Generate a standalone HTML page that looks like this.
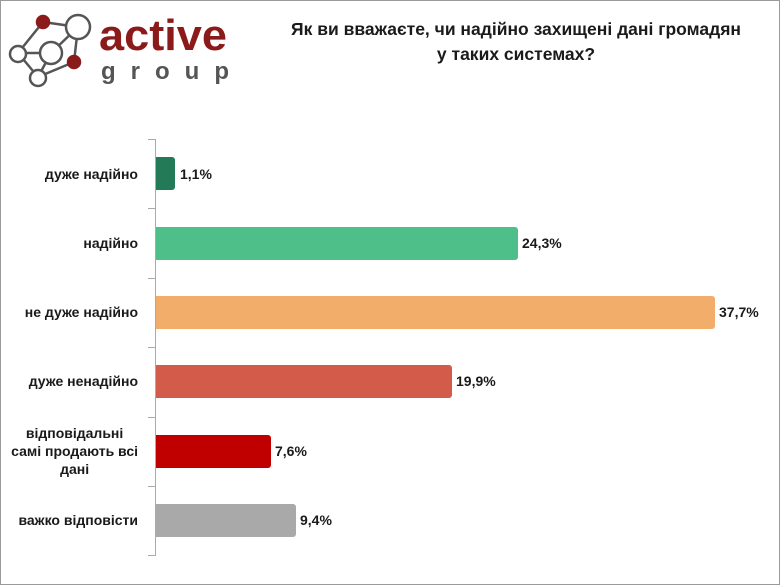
<!DOCTYPE html>
<html><head><meta charset="utf-8"><style>
body{margin:0;background:#fff}
#c{position:relative;width:778px;height:583px;border:1px solid #9a9a9a;overflow:hidden;font-family:"Liberation Sans","DejaVu Sans",sans-serif;font-weight:bold;color:#1a1a1a}
.l{position:absolute;right:641px;text-align:center;font-size:14px;line-height:18px;white-space:nowrap}
.b{position:absolute;left:155px;height:33px;border-radius:0 3px 3px 0}
.v{position:absolute;font-size:14px}
.t{position:absolute;left:147px;width:7px;height:1px;background:#aaa}
</style></head><body><div id="c">
<svg style="position:absolute;left:0;top:0" width="240" height="95">
<g stroke="#555" stroke-width="2.5" fill="#fff">
<line x1="42" y1="21" x2="77" y2="26"/><line x1="42" y1="21" x2="17" y2="52"/><line x1="77" y1="26" x2="50" y2="52"/><line x1="77" y1="26" x2="73" y2="61"/><line x1="17" y1="52" x2="50" y2="52"/><line x1="17" y1="52" x2="37" y2="76"/><line x1="50" y1="52" x2="37" y2="76"/><line x1="37" y1="76" x2="73" y2="61"/>
<circle cx="77" cy="26" r="12"/><circle cx="50" cy="52" r="11"/><circle cx="17" cy="53" r="8"/><circle cx="37" cy="77" r="8"/>
<circle cx="42" cy="21" r="6" fill="#8b1a1a" stroke="#8b1a1a"/><circle cx="73" cy="61" r="6" fill="#8b1a1a" stroke="#8b1a1a"/></g>
<text x="98" y="49" font-family="Liberation Sans,sans-serif" font-weight="bold" font-size="44" fill="#8b1a1a" textLength="128" lengthAdjust="spacingAndGlyphs">active</text>
<text x="100" y="78" font-family="Liberation Sans,sans-serif" font-size="24" fill="#555" letter-spacing="15">group</text>
</svg>
<div style="position:absolute;left:250px;width:530px;top:16px;text-align:center;font-size:17.5px;line-height:25px">Як ви вважаєте, чи надійно захищені дані громадян<br>у таких системах?</div>
<div style="position:absolute;left:154px;top:138px;width:1px;height:417px;background:#aaa"></div>
<div class="t" style="top:138px"></div><div class="t" style="top:207px"></div><div class="t" style="top:277px"></div><div class="t" style="top:346px"></div><div class="t" style="top:416px"></div><div class="t" style="top:485px"></div><div class="t" style="top:554px"></div>
<div class="l" style="top:164px">дуже надійно</div>
<div class="l" style="top:233px">надійно</div>
<div class="l" style="top:302px">не дуже надійно</div>
<div class="l" style="top:371px">дуже ненадійно</div>
<div class="l" style="top:423px">відповідальні<br>самі продають всі<br>дані</div>
<div class="l" style="top:510px">важко відповісти</div>
<div class="b" style="top:156px;width:19px;background:#237a57"></div><div class="v" style="left:179px;top:165px">1,1%</div>
<div class="b" style="top:226px;width:362px;background:#4fbf8a"></div><div class="v" style="left:521px;top:234px">24,3%</div>
<div class="b" style="top:295px;width:559px;background:#f2ad6b"></div><div class="v" style="left:718px;top:303px">37,7%</div>
<div class="b" style="top:364px;width:296px;background:#d35b4a"></div><div class="v" style="left:455px;top:372px">19,9%</div>
<div class="b" style="top:434px;width:115px;background:#c00000"></div><div class="v" style="left:274px;top:442px">7,6%</div>
<div class="b" style="top:503px;width:140px;background:#a9a9a9"></div><div class="v" style="left:299px;top:511px">9,4%</div>
</div></body></html>
